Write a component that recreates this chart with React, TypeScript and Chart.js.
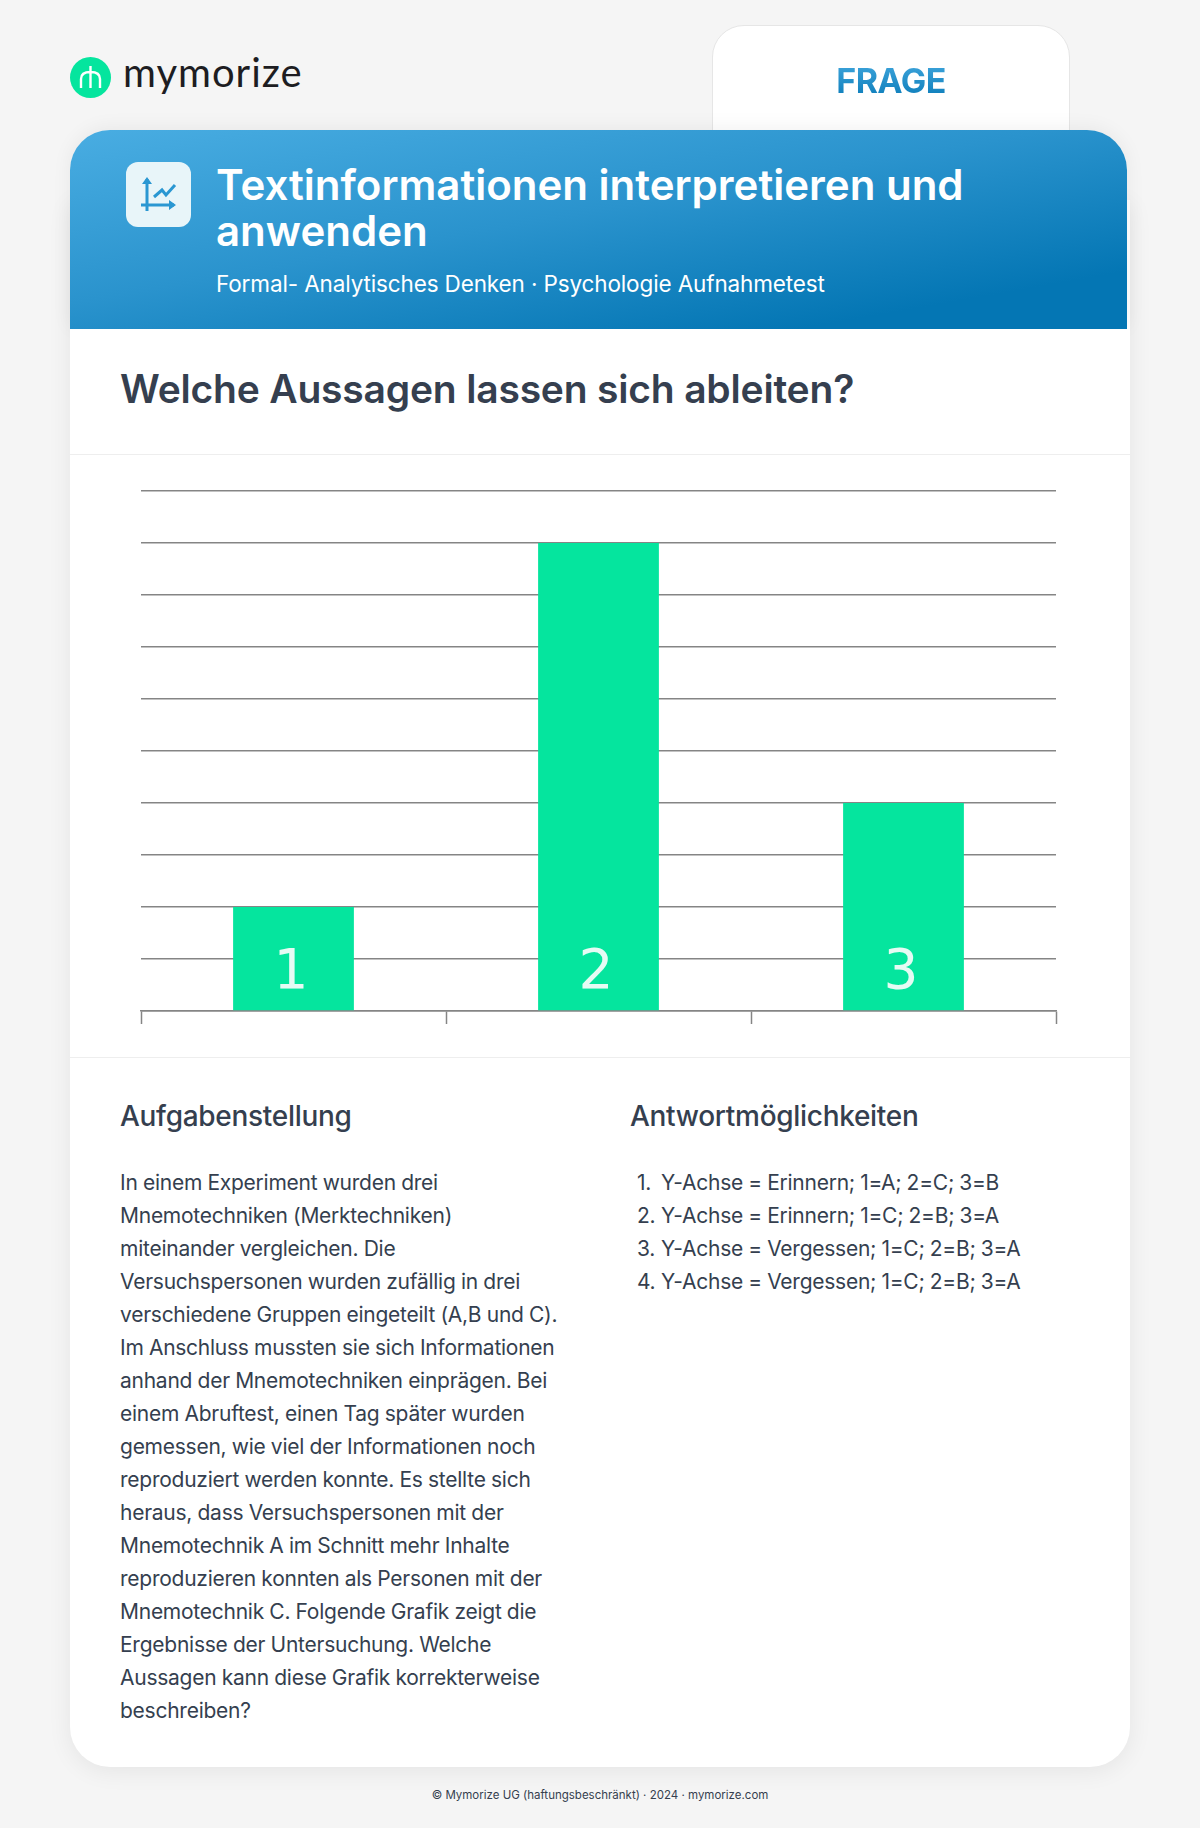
import React, { useEffect, useRef } from "react";
import { Chart, registerables } from "chart.js";

Chart.register(...registerables);

const categories = ["1", "2", "3"];
const values = [2, 9, 4];
const yTicksMax = 10;
const taskLines = [
  "In einem Experiment wurden drei",
  "Mnemotechniken (Merktechniken)",
  "miteinander vergleichen. Die",
  "Versuchspersonen wurden zufällig in drei",
  "verschiedene Gruppen eingeteilt (A,B und C).",
  "Im Anschluss mussten sie sich Informationen",
  "anhand der Mnemotechniken einprägen. Bei",
  "einem Abruftest, einen Tag später wurden",
  "gemessen, wie viel der Informationen noch",
  "reproduziert werden konnte. Es stellte sich",
  "heraus, dass Versuchspersonen mit der",
  "Mnemotechnik A im Schnitt mehr Inhalte",
  "reproduzieren konnten als Personen mit der",
  "Mnemotechnik C. Folgende Grafik zeigt die",
  "Ergebnisse der Untersuchung. Welche",
  "Aussagen kann diese Grafik korrekterweise",
  "beschreiben?",
];
const answers = [
  "Y-Achse = Erinnern; 1=A; 2=C; 3=B",
  "Y-Achse = Erinnern; 1=C; 2=B; 3=A",
  "Y-Achse = Vergessen; 1=C; 2=B; 3=A",
  "Y-Achse = Vergessen; 1=C; 2=B; 3=A",
];

const FONT = "Inter, sans-serif";
const abs = (left: number, top: number, extra: React.CSSProperties = {}): React.CSSProperties => ({
  position: "absolute",
  left,
  top,
  whiteSpace: "nowrap",
  fontFamily: FONT,
  ...extra,
});

const barLabels = {
  id: "barLabels",
  afterDatasetsDraw(chart: any) {
    const { ctx } = chart;
    const meta = chart.getDatasetMeta(0);
    const base = chart.scales.y.getPixelForValue(0);
    ctx.save();
    ctx.fillStyle = "#e6fbf4";
    ctx.font = "400 55px 'DejaVu Sans', sans-serif";
    ctx.textAlign = "center";
    ctx.textBaseline = "alphabetic";
    meta.data.forEach((bar: any, i: number) => {
      ctx.fillText(categories[i], bar.x - 2.5, base - 23);
    });
    ctx.restore();
  },
};

export default function App() {
  const ref = useRef<HTMLCanvasElement>(null);
  useEffect(() => {
    document.body.style.margin = "0";
    const chart = new Chart(ref.current!, {
      type: "bar",
      data: {
        labels: categories,
        datasets: [
          {
            data: values,
            backgroundColor: "#05e59e",
            barPercentage: 0.396,
            categoryPercentage: 1,
            borderWidth: 0,
          },
        ],
      },
      options: {
        animation: false,
        responsive: false,
        layout: { padding: { left: 71, right: 74, top: 36, bottom: 33 } },
        plugins: { legend: { display: false }, tooltip: { enabled: false }, title: { display: false } },
        scales: {
          x: {
            offset: true,
            ticks: { display: false },
            border: { display: true, color: "#858585", width: 1.5 },
            grid: {
              offset: true,
              drawOnChartArea: false,
              drawTicks: true,
              tickLength: 13,
              tickColor: "#858585",
              tickWidth: 1.5,
            },
          },
          y: {
            min: 0,
            max: yTicksMax,
            ticks: { display: false, stepSize: 1 },
            border: { display: false },
            grid: { color: "#858585", lineWidth: 1.5, drawTicks: false },
          },
        },
      },
      plugins: [barLabels],
    } as any);
    return () => chart.destroy();
  }, []);

  return (
    <div style={{ position: "relative", width: 1200, height: 1828, background: "#f5f5f5", overflow: "hidden" }}>
      {/* logo */}
      <svg style={{ position: "absolute", left: 70, top: 57 }} width={41} height={41} viewBox="0 0 41 41">
        <circle cx="20.5" cy="20.5" r="20.5" fill="#05e59e" />
        <path d="M11 31 V22 Q11 15 20.5 15 Q30 15 30 22 V31 M20.5 9 V31" fill="none" stroke="#fff" strokeWidth="2.4" />
      </svg>
      <div style={abs(123, 47, { fontFamily: "Lato, sans-serif", fontSize: 40, lineHeight: "50px", color: "#1d1d22", letterSpacing: 1 })}>mymorize</div>

      {/* tab */}
      <div
        style={{
          position: "absolute",
          left: 712,
          top: 25,
          width: 358,
          height: 113,
          background: "#fff",
          border: "1px solid #e6e6e6",
          boxSizing: "border-box",
          borderRadius: "32px 32px 0 0",
        }}
      />
      <div
        style={abs(713, 58, {
          width: 356,
          textAlign: "center",
          fontSize: 34,
          lineHeight: "46px",
          fontWeight: 700,
          letterSpacing: -0.6,
          background: "linear-gradient(180deg,#45aae0,#0476b4)",
          WebkitBackgroundClip: "text",
          backgroundClip: "text",
          color: "transparent",
        })}
      >
        FRAGE
      </div>

      {/* card */}
      <div
        style={{
          position: "absolute",
          left: 70,
          top: 200,
          width: 1060,
          height: 1567,
          background: "#fff",
          borderRadius: "0 0 40px 40px",
          boxShadow: "0 4px 24px rgba(0,0,0,0.07)",
        }}
      />
      <div
        style={{
          position: "absolute",
          left: 70,
          top: 130,
          width: 1057,
          height: 199,
          borderRadius: "40px 40px 0 0",
          background: "linear-gradient(170deg,#49ade2 0%,#2a93cd 45%,#0476b4 85%)",
          boxShadow: "0 -2px 20px rgba(0,0,0,0.06)",
        }}
      />
      <div style={{ position: "absolute", left: 70, top: 329, width: 1060, height: 20, background: "#fff" }} />
      <div style={{ position: "absolute", left: 126, top: 162, width: 65, height: 65, borderRadius: 12, background: "#e8f5f9" }} />
      <svg style={{ position: "absolute", left: 126, top: 162 }} width={65} height={65} viewBox="0 0 65 65" fill="none" stroke="#2a97d2" strokeWidth="3">
        <path d="M21 17 V49 M15 43 H48" />
        <path d="M21 15 l-5 7 h10 z M50 43 l-7 -5 v10 z" fill="#2a97d2" stroke="none" />
        <path d="M28 35 l8 -7 l4 5 l9 -10" strokeWidth="3" />
      </svg>
      <div style={abs(216, 162, { fontSize: 42, lineHeight: "46px", fontWeight: 600, color: "#fff" })}>
        Textinformationen interpretieren und
        <br />
        anwenden
      </div>
      <div style={abs(216, 269, { fontSize: 22.5, lineHeight: "30px", color: "#fff", letterSpacing: -0.13 })}>
        Formal- Analytisches Denken · Psychologie Aufnahmetest
      </div>

      {/* question */}
      <div style={abs(120, 364, { fontSize: 39, lineHeight: "50px", fontWeight: 600, color: "#353f4f", letterSpacing: -0.19 })}>
        Welche Aussagen lassen sich ableiten?
      </div>
      <div style={{ position: "absolute", left: 70, top: 454, width: 1060, height: 1, background: "#eeeeee" }} />

      {/* chart */}
      <canvas ref={ref} width={1060} height={602} style={{ position: "absolute", left: 70, top: 455, display: "block" }} />
      <div style={{ position: "absolute", left: 70, top: 1057, width: 1060, height: 1, background: "#eeeeee" }} />

      {/* text */}
      <div style={abs(120, 1098, { fontSize: 28, lineHeight: "36px", fontWeight: 500, color: "#353f4f", letterSpacing: -0.3 })}>Aufgabenstellung</div>
      <div style={abs(630, 1098, { fontSize: 28, lineHeight: "36px", fontWeight: 500, color: "#353f4f", letterSpacing: -0.3 })}>Antwortmöglichkeiten</div>
      <div style={abs(120, 1166, { fontSize: 21, lineHeight: "33px", color: "#353f4f", letterSpacing: -0.25, wordSpacing: -0.3 })}>
        {taskLines.map((l, i) => (
          <div key={i}>{l}</div>
        ))}
      </div>
      <div style={abs(630, 1166, { fontSize: 21, lineHeight: "33px", color: "#353f4f", letterSpacing: -0.25, wordSpacing: -0.4 })}>
        {answers.map((a, i) => (
          <div key={i} style={{ position: "relative", paddingLeft: 31 }}>
            <span style={{ position: "absolute", left: 7 }}>{i + 1}.</span>
            {a}
          </div>
        ))}
      </div>
      <div style={abs(0, 1786, { width: 1200, textAlign: "center", fontSize: 11.5, lineHeight: "18px", color: "#353f4f" })}>
        © Mymorize UG (haftungsbeschränkt) · 2024 · mymorize.com
      </div>
    </div>
  );
}
